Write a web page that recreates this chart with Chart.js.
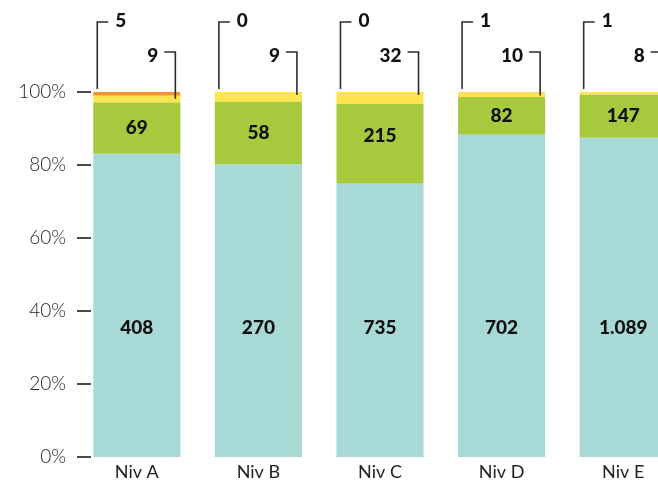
<!DOCTYPE html>
<html>
<head>
<meta charset="utf-8">
<script src="https://cdn.jsdelivr.net/npm/chart.js@4"></script>
<style>
  html, body { margin: 0; padding: 0; background: #fff; overflow: hidden; }
  #wrap { width: 684px; height: 483px; }
</style>
</head>
<body>
<div id="wrap"><canvas id="c" width="684" height="483"></canvas></div>
<script>
// Categories and counts per level
const categories = ['Niv A', 'Niv B', 'Niv C', 'Niv D', 'Niv E'];
const tealValues = [408, 270, 735, 702, 1089];
const greenValues = [69, 58, 215, 82, 147];
const yellowValues = [9, 9, 32, 10, 8];
const orangeValues = [5, 0, 0, 1, 1];
const yTicks = [0, 20, 40, 60, 80, 100];

const seriesValues = [tealValues, greenValues, yellowValues, orangeValues];
const seriesColors = ['#a7d9d6', '#a6c93d', '#fee54f', '#f4942c'];

const totals = categories.map((_, i) => seriesValues.reduce((s, arr) => s + arr[i], 0));
const toPct = arr => arr.map((v, i) => v / totals[i] * 100);

const fmt = v => String(v).replace(/\B(?=(\d{3})+(?!\d))/g, '.');

const LABEL_FONT = '900 19px Lato, "Open Sans", sans-serif';

// Tick marks, in-bar labels and callouts for the thin top segments
const annotate = {
  id: 'annotate',
  afterDatasetsDraw(chart) {
    const { ctx, chartArea, scales } = chart;
    const y = scales.y;
    ctx.save();

    // short tick marks beside the value axis
    ctx.strokeStyle = '#4a4a4a';
    ctx.lineWidth = 2;
    yTicks.forEach(t => {
      const py = Math.round(y.getPixelForValue(t));
      ctx.beginPath();
      ctx.moveTo(chartArea.left + 1, py);
      ctx.lineTo(chartArea.left + 15, py);
      ctx.stroke();
    });

    ctx.font = LABEL_FONT;
    ctx.fillStyle = '#111';
    const tealMeta = chart.getDatasetMeta(0);
    const greenMeta = chart.getDatasetMeta(1);
    const yellowMeta = chart.getDatasetMeta(2);

    categories.forEach((_, i) => {
      const tb = tealMeta.data[i];
      const gb = greenMeta.data[i];
      const yb = yellowMeta.data[i];
      const cx = tb.x;
      const half = tb.width / 2;

      // teal value
      ctx.textAlign = 'center';
      ctx.textBaseline = 'middle';
      ctx.fillText(fmt(tealValues[i]), cx, y.getPixelForValue(35.5));

      // green value
      const gTop = Math.min(gb.y, gb.base);
      const gBot = Math.max(gb.y, gb.base);
      ctx.fillText(fmt(greenValues[i]), cx, Math.min((gTop + gBot) / 2, gTop + 32));

      // callout lines
      ctx.strokeStyle = '#2e2e2e';
      ctx.lineWidth = 1.6;

      // orange callout (left)
      const lx = cx - half + 4;
      const topY = chartArea.top - 70;
      ctx.beginPath();
      ctx.moveTo(lx, y.getPixelForValue(100) - 3);
      ctx.lineTo(lx, topY);
      ctx.lineTo(lx + 11, topY);
      ctx.stroke();
      ctx.textAlign = 'left';
      ctx.fillText(fmt(orangeValues[i]), lx + 18, topY - 1);

      // yellow callout (right)
      const rx = cx + half - 5;
      const midY = chartArea.top - 40;
      const yTop = Math.min(yb.y, yb.base);
      ctx.beginPath();
      ctx.moveTo(rx - 11, midY);
      ctx.lineTo(rx, midY);
      ctx.lineTo(rx, yTop + 3);
      ctx.stroke();
      ctx.textAlign = 'right';
      ctx.fillText(fmt(yellowValues[i]), rx - 17, midY + 4);
    });
    ctx.restore();
  }
};

new Chart(document.getElementById('c'), {
  type: 'bar',
  data: {
    labels: categories,
    datasets: seriesValues.map((arr, k) => ({
      data: toPct(arr),
      backgroundColor: seriesColors[k],
      borderWidth: 0,
      barPercentage: 0.716,
      categoryPercentage: 1
    }))
  },
  options: {
    responsive: false,
    animation: false,
    devicePixelRatio: 1,
    layout: { padding: { top: 92, left: 0, right: 0, bottom: 0 } },
    plugins: { legend: { display: false }, tooltip: { enabled: false } },
    scales: {
      x: {
        stacked: true,
        grid: { display: false, drawTicks: false },
        border: { display: false },
        ticks: {
          color: '#222',
          padding: 4,
          font: { family: 'Lato, sans-serif', size: 18, weight: '400' }
        },
        afterFit(scale) { scale.height = 26; }
      },
      y: {
        stacked: true,
        min: 0,
        max: 100,
        grid: { display: false, drawTicks: false },
        border: { display: false },
        afterBuildTicks(scale) { scale.ticks = yTicks.map(v => ({ value: v })); },
        ticks: {
          color: '#262626',
          padding: 10,
          font: { family: 'Lato, sans-serif', size: 19, weight: '300' },
          callback: v => v + '%'
        },
        afterFit(scale) { scale.width = 76; }
      }
    }
  },
  plugins: [annotate]
});
</script>
</body>
</html>
